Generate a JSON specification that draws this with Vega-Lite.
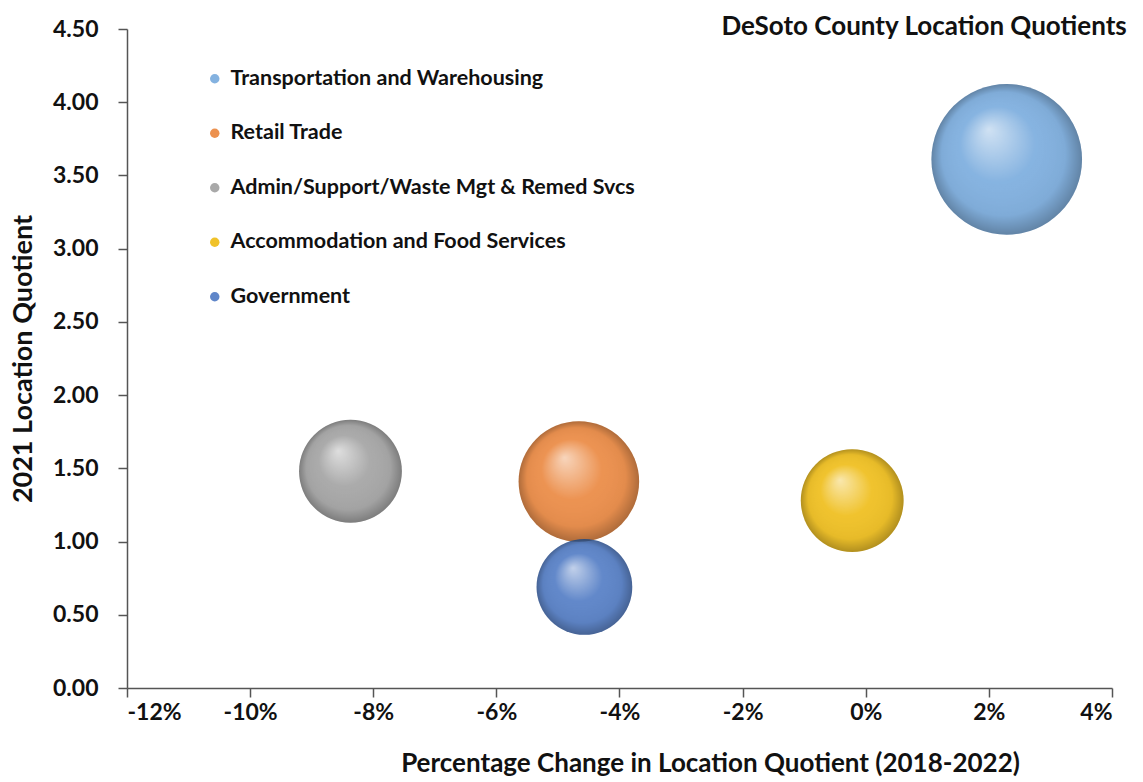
{
  "$schema": "https://vega.github.io/schema/vega-lite/v6.json",
  "autosize": {"type": "none"},
  "padding": {"left": 127, "top": 29, "right": 31, "bottom": 94},
  "width": 985,
  "height": 659,
  "background": "white",
  "config": {
    "view": {"stroke": null},
    "font": "Lato"
  },
  "title": {
    "text": "DeSoto County Location Quotients",
    "anchor": "end",
    "font": "Lato",
    "fontSize": 26,
    "fontWeight": "bold",
    "color": "#111111",
    "baseline": "top",
    "dx": 14,
    "offset": -22
  },
  "data": {
    "values": [
      {"Industry": "Transportation and Warehousing", "Change": 0.0229, "LQ": 3.61, "Size": 7225},
      {"Industry": "Retail Trade", "Change": -0.0466, "LQ": 1.41, "Size": 4624},
      {"Industry": "Admin/Support/Waste Mgt & Remed Svcs", "Change": -0.0837, "LQ": 1.48, "Size": 3364},
      {"Industry": "Accommodation and Food Services", "Change": -0.0022, "LQ": 1.28, "Size": 3364},
      {"Industry": "Government", "Change": -0.0457, "LQ": 0.69, "Size": 2916}
    ]
  },
  "encoding": {
    "x": {
      "field": "Change",
      "type": "quantitative",
      "scale": {"domain": [-0.12, 0.04], "nice": false, "zero": false},
      "axis": {
        "title": "Percentage Change in Location Quotient (2018-2022)",
        "values": [-0.12, -0.1, -0.08, -0.06, -0.04, -0.02, 0, 0.02, 0.04],
        "labelExpr": "replace(format(datum.value, '.0%'), '\u2212', '-')",
        "grid": false,
        "domainColor": "#555555",
        "domainWidth": 1.5,
        "tickColor": "#555555",
        "tickWidth": 1.5,
        "tickSize": 9,
        "labelFont": "Lato",
        "labelFontSize": 23,
        "labelFontWeight": "bold",
        "labelColor": "#111111",
        "labelPadding": 4,
        "titleFont": "Lato",
        "titleFontSize": 26,
        "titleFontWeight": "bold",
        "titleColor": "#111111",
        "titlePadding": 26,
        "titleX": 583
      }
    },
    "y": {
      "field": "LQ",
      "type": "quantitative",
      "scale": {"domain": [0, 4.5], "nice": false},
      "axis": {
        "title": "2021 Location Quotient",
        "values": [0, 0.5, 1, 1.5, 2, 2.5, 3, 3.5, 4, 4.5],
        "format": ".2f",
        "grid": false,
        "domainColor": "#555555",
        "domainWidth": 1.5,
        "tickColor": "#555555",
        "tickWidth": 1.5,
        "tickSize": 9,
        "labelFont": "Lato",
        "labelFontSize": 23,
        "labelFontWeight": "bold",
        "labelColor": "#111111",
        "labelPadding": 20,
        "titleFont": "Lato",
        "titleFontSize": 27,
        "titleFontWeight": "bold",
        "titleColor": "#111111",
        "titlePadding": 15,
        "encode": {"ticks": {"update": {"x": {"value": 9}, "x2": {"value": -9}}}}
      }
    },
    "size": {
      "field": "Size",
      "type": "quantitative",
      "scale": {"type": "linear", "domain": [0, 7225], "range": [0, 22698]},
      "legend": null
    }
  },
  "layer": [
    {
      "mark": {"type": "point", "shape": "circle", "filled": true, "opacity": 1, "strokeWidth": 0},
      "encoding": {
        "color": {
          "field": "Industry",
          "type": "nominal",
          "sort": ["Transportation and Warehousing", "Retail Trade", "Admin/Support/Waste Mgt & Remed Svcs", "Accommodation and Food Services", "Government"],
          "scale": {
            "domain": ["Transportation and Warehousing", "Retail Trade", "Admin/Support/Waste Mgt & Remed Svcs", "Accommodation and Food Services", "Government"],
            "range": ["#84B2E0", "#EC914F", "#A9A9A9", "#F0C22A", "#5F86C9"]
          },
          "legend": {
            "title": null,
            "orient": "none",
            "legendX": 77,
            "legendY": 39,
            "symbolType": "circle",
            "symbolSize": 90,
            "symbolStrokeWidth": 0,
            "symbolOpacity": 1,
            "labelFont": "Lato",
            "labelFontSize": 21.5,
            "labelFontWeight": "bold",
            "labelColor": "#111111",
            "labelOffset": 5,
            "rowPadding": 31.5,
            "labelLimit": 700
          }
        }
      }
    },
    {
      "mark": {
        "type": "point",
        "shape": "circle",
        "filled": true,
        "opacity": 1,
        "strokeWidth": 0,
        "fill": {
          "gradient": "radial",
          "x1": 0.38, "y1": 0.3, "r1": 0,
          "x2": 0.5, "y2": 0.5, "r2": 0.5,
          "stops": [
            {"offset": 0, "color": "rgba(255,255,255,0.62)"},
            {"offset": 0.5, "color": "rgba(255,255,255,0.02)"},
            {"offset": 0.82, "color": "rgba(0,0,0,0.04)"},
            {"offset": 1, "color": "rgba(0,0,0,0.26)"}
          ]
        }
      },
      "encoding": {}
    }
  ]
}
